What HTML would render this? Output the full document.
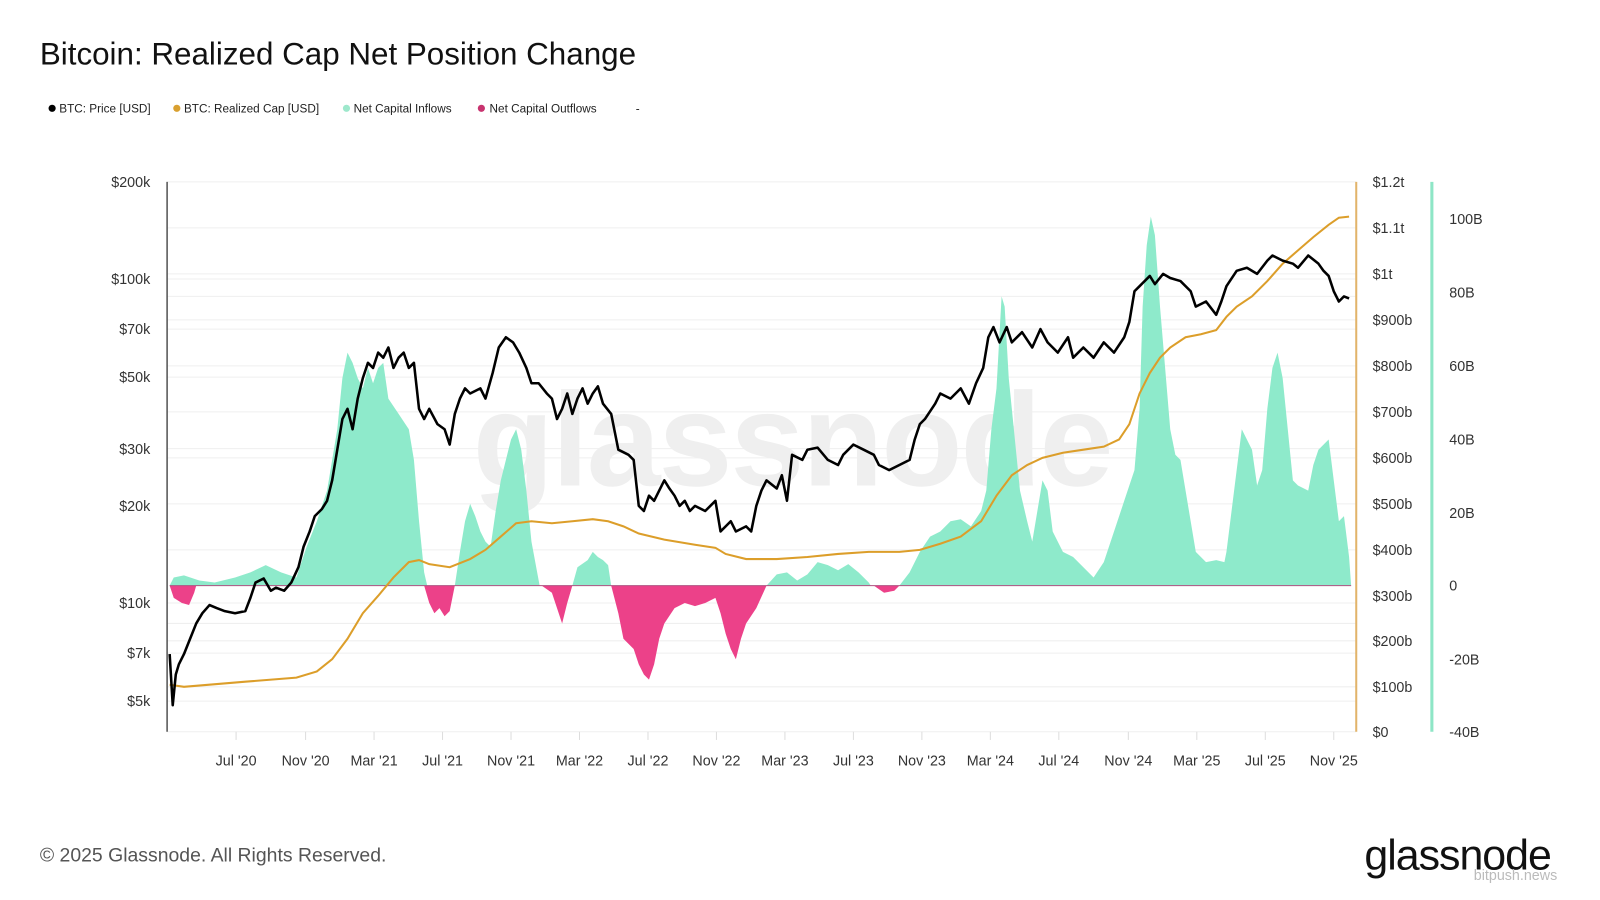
<!DOCTYPE html>
<html><head><meta charset="utf-8"><style>
html,body{margin:0;padding:0;background:#fff;width:1600px;height:900px;overflow:hidden}
svg{display:block}
text{font-family:"Liberation Sans",sans-serif}
</style></head><body>
<svg width="1600" height="900" viewBox="0 0 1565.5 880.6" preserveAspectRatio="none">
<rect width="1565.5" height="880.6" fill="#fff"/>
<text x="39" y="63" font-size="30.7" fill="#111">Bitcoin: Realized Cap Net Position Change</text>
<g font-size="11.5" fill="#222">
<circle cx="51" cy="106" r="3.5" fill="#000"/><text x="58" y="110">BTC: Price [USD]</text>
<circle cx="173" cy="106" r="3.5" fill="#d9a030"/><text x="180" y="110">BTC: Realized Cap [USD]</text>
<circle cx="339" cy="106" r="3.5" fill="#9ee8cc"/><text x="346" y="110">Net Capital Inflows</text>
<circle cx="471" cy="106" r="3.5" fill="#c8336f"/><text x="479" y="110">Net Capital Outflows</text>
<text x="622" y="110">-</text>
</g>
<text x="775" y="475" font-size="130" font-weight="bold" fill="#efefef" text-anchor="middle" letter-spacing="-2">glassnode</text>
<g stroke="#efefef" stroke-width="1">
<line x1="163" x2="1327" y1="178" y2="178"/><line x1="163" x2="1327" y1="223" y2="223"/><line x1="163" x2="1327" y1="268" y2="268"/><line x1="163" x2="1327" y1="273" y2="273"/><line x1="163" x2="1327" y1="290" y2="290"/><line x1="163" x2="1327" y1="313" y2="313"/><line x1="163" x2="1327" y1="322" y2="322"/><line x1="163" x2="1327" y1="358" y2="358"/><line x1="163" x2="1327" y1="369" y2="369"/><line x1="163" x2="1327" y1="403" y2="403"/><line x1="163" x2="1327" y1="439" y2="439"/><line x1="163" x2="1327" y1="448" y2="448"/><line x1="163" x2="1327" y1="493" y2="493"/><line x1="163" x2="1327" y1="538" y2="538"/><line x1="163" x2="1327" y1="590" y2="590"/><line x1="163" x2="1327" y1="610" y2="610"/><line x1="163" x2="1327" y1="627" y2="627"/><line x1="163" x2="1327" y1="639" y2="639"/><line x1="163" x2="1327" y1="672" y2="672"/><line x1="163" x2="1327" y1="686" y2="686"/><line x1="163" x2="1327" y1="716" y2="716"/>
</g>
<polygon fill="#8eeacb" points="166,573 170,565 180,563 195,568 210,570 230,565 245,560 260,553 275,560 290,565 300,535 310,510 320,480 330,420 335,370 340,345 345,355 350,370 355,380 360,360 365,375 370,360 375,355 380,390 390,405 400,420 405,450 410,510 415,560 418,573 445,573 450,540 455,510 460,493 465,505 470,520 475,530 480,535 485,500 490,470 495,450 500,430 505,420 510,440 515,480 520,530 528,573 560,573 565,555 575,548 580,540 585,545 590,548 595,553 598,573 750,573 760,562 770,560 780,568 790,562 800,550 810,553 820,558 830,552 840,560 850,570 852,573 880,573 890,560 900,540 910,525 920,520 930,510 940,508 950,515 960,500 965,480 970,420 975,380 980,290 983,300 987,370 992,420 998,480 1005,510 1010,530 1015,500 1020,470 1025,480 1030,520 1040,540 1050,545 1060,555 1070,565 1080,550 1090,520 1100,490 1110,460 1115,400 1118,300 1122,240 1126,212 1130,230 1135,300 1140,360 1145,420 1150,445 1155,450 1160,480 1165,510 1170,540 1180,550 1190,548 1198,550 1200,540 1205,500 1210,460 1215,420 1220,430 1225,440 1230,475 1235,460 1240,400 1245,360 1250,345 1255,370 1260,420 1265,470 1270,475 1280,480 1285,455 1290,440 1295,435 1300,430 1305,470 1310,510 1315,505 1320,545 1322,573"/>
<polygon fill="#ec4189" points="166,573 170,585 178,590 185,592 190,580 192,573 415,573 420,590 425,600 430,595 435,603 440,598 445,573 530,573 540,580 545,595 550,610 555,590 560,573 598,573 605,600 610,625 615,630 620,635 625,650 630,660 635,665 640,650 645,625 650,610 660,595 670,590 680,593 690,590 700,585 705,600 710,620 715,635 720,645 725,625 730,610 740,595 750,573 855,573 865,580 875,578 880,573"/>
<line x1="166" x2="1322" y1="573" y2="573" stroke="#b05080" stroke-width="1"/>
<polyline fill="none" stroke="#dc9e2a" stroke-width="2" points="166,670 180,672 240,667 290,663 310,657 325,645 340,625 355,600 370,583 385,565 400,550 410,548 420,552 440,555 460,547 475,538 490,525 505,512 520,510 540,512 560,510 580,508 595,510 610,515 625,522 650,528 680,533 700,536 710,542 730,547 760,547 790,545 820,542 850,540 880,540 900,538 920,532 940,525 960,510 975,485 990,465 1005,455 1020,448 1040,443 1060,440 1080,437 1095,430 1105,415 1115,385 1125,365 1135,350 1145,340 1160,330 1175,327 1190,323 1200,310 1210,300 1225,290 1240,275 1255,258 1270,245 1285,232 1300,220 1310,213 1320,212"/>
<polyline fill="none" stroke="#000" stroke-width="2.5" stroke-linejoin="round" points="166,640 169,690 172,660 175,650 180,640 186,625 192,610 198,600 205,592 212,595 220,598 230,600 240,598 245,585 250,570 258,566 265,578 270,575 278,578 285,570 292,555 297,535 303,520 308,505 315,498 320,490 325,470 330,440 335,410 340,400 345,420 350,390 355,370 360,355 365,360 370,345 375,350 380,340 385,360 390,350 395,345 400,360 405,355 410,400 415,410 420,400 428,415 435,420 440,435 445,405 450,390 455,380 460,385 470,380 475,390 482,365 488,340 495,330 502,335 508,345 515,360 520,375 527,375 535,385 540,390 545,410 550,400 555,385 560,405 565,390 570,380 575,395 580,385 585,378 590,395 598,405 605,440 615,445 620,450 625,495 630,500 635,485 640,490 645,480 650,470 655,478 660,485 665,495 670,490 675,500 680,495 690,500 700,490 705,520 710,515 715,510 720,520 730,515 735,520 740,495 745,480 750,470 760,478 765,465 770,490 775,445 785,450 790,440 800,438 810,450 820,455 825,445 830,440 835,435 845,440 855,445 860,455 870,460 880,455 890,450 895,430 900,415 905,410 915,395 920,385 930,390 940,380 948,395 955,375 962,360 967,330 972,320 978,335 985,320 990,335 1000,325 1010,340 1018,322 1025,335 1035,345 1045,330 1050,350 1060,340 1070,350 1080,335 1090,345 1100,330 1105,315 1110,285 1115,280 1120,275 1125,270 1130,278 1138,268 1145,272 1155,275 1165,285 1170,300 1180,295 1190,308 1195,295 1200,280 1210,265 1220,262 1230,268 1240,255 1245,250 1255,255 1265,258 1270,262 1280,250 1290,258 1295,265 1300,270 1305,285 1310,295 1315,290 1320,292"/>
<line x1="163.5" x2="163.5" y1="178" y2="716" stroke="#555" stroke-width="1.5"/>
<line x1="1327" x2="1327" y1="178" y2="716" stroke="#e2b46a" stroke-width="2"/>
<line x1="1401" x2="1401" y1="178" y2="716" stroke="#8ee6c6" stroke-width="3"/>
<g font-size="14" fill="#333" text-anchor="end">
<text x="147" y="183">$200k</text><text x="147" y="278">$100k</text><text x="147" y="327">$70k</text><text x="147" y="374">$50k</text><text x="147" y="444">$30k</text><text x="147" y="500">$20k</text><text x="147" y="595">$10k</text><text x="147" y="644">$7k</text><text x="147" y="691">$5k</text>
</g>
<g font-size="14" fill="#333">
<text x="1343" y="183">$1.2t</text><text x="1343" y="228">$1.1t</text><text x="1343" y="273">$1t</text><text x="1343" y="318">$900b</text><text x="1343" y="363">$800b</text><text x="1343" y="408">$700b</text><text x="1343" y="453">$600b</text><text x="1343" y="498">$500b</text><text x="1343" y="543">$400b</text><text x="1343" y="588">$300b</text><text x="1343" y="632">$200b</text><text x="1343" y="677">$100b</text><text x="1343" y="721">$0</text>
<text x="1418" y="219">100B</text><text x="1418" y="291">80B</text><text x="1418" y="363">60B</text><text x="1418" y="435">40B</text><text x="1418" y="507">20B</text><text x="1418" y="578">0</text><text x="1418" y="650">-20B</text><text x="1418" y="721">-40B</text>
</g>
<g stroke="#ddd"><line x1="231" x2="231" y1="716" y2="724"/><line x1="299" x2="299" y1="716" y2="724"/><line x1="366" x2="366" y1="716" y2="724"/><line x1="433" x2="433" y1="716" y2="724"/><line x1="500" x2="500" y1="716" y2="724"/><line x1="567" x2="567" y1="716" y2="724"/><line x1="634" x2="634" y1="716" y2="724"/><line x1="701" x2="701" y1="716" y2="724"/><line x1="768" x2="768" y1="716" y2="724"/><line x1="835" x2="835" y1="716" y2="724"/><line x1="902" x2="902" y1="716" y2="724"/><line x1="969" x2="969" y1="716" y2="724"/><line x1="1036" x2="1036" y1="716" y2="724"/><line x1="1104" x2="1104" y1="716" y2="724"/><line x1="1171" x2="1171" y1="716" y2="724"/><line x1="1238" x2="1238" y1="716" y2="724"/><line x1="1305" x2="1305" y1="716" y2="724"/></g>
<g font-size="14" fill="#333" text-anchor="middle">
<text x="231" y="749">Jul '20</text><text x="299" y="749">Nov '20</text><text x="366" y="749">Mar '21</text><text x="433" y="749">Jul '21</text><text x="500" y="749">Nov '21</text><text x="567" y="749">Mar '22</text><text x="634" y="749">Jul '22</text><text x="701" y="749">Nov '22</text><text x="768" y="749">Mar '23</text><text x="835" y="749">Jul '23</text><text x="902" y="749">Nov '23</text><text x="969" y="749">Mar '24</text><text x="1036" y="749">Jul '24</text><text x="1104" y="749">Nov '24</text><text x="1171" y="749">Mar '25</text><text x="1238" y="749">Jul '25</text><text x="1305" y="749">Nov '25</text>
</g>
<text x="39" y="843" font-size="19" fill="#555">© 2025 Glassnode. All Rights Reserved.</text>
<text x="1335" y="851" font-size="42" fill="#111" letter-spacing="-1">glassnode</text>
<text x="1442" y="861" font-size="14" fill="#bbb">bitpush.news</text>
</svg>
</body></html>
